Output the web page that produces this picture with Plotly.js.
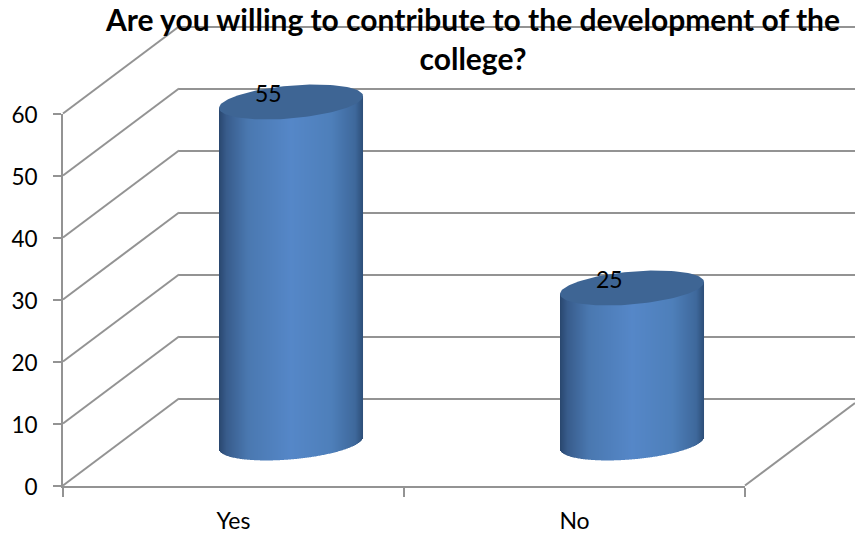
<!DOCTYPE html>
<html><head><meta charset="utf-8">
<script src="https://cdn.plot.ly/plotly-3.0.1.min.js"></script>
<style>html,body{margin:0;padding:0;background:#fff}#chart{width:855px;height:536px}</style>
</head><body><div id="chart"></div>
<script>
const categories = ['Yes', 'No'];
const responses = [55, 25];
const yTicks = [0, 10, 20, 30, 40, 50, 60];
const titleText = 'Are you willing to contribute to the development of the<br>college?';

const W = 855, H = 536;
const GREY = '#939393', FONT = 'Lato, Carlito, sans-serif', LW = 2;
const pxPerUnitY = 6.2, pxPerUnitX = 341;
const front = {left: 63, right: 745, bottom: 485.5};
const depth = {x: 116, y: 87};
const mid = {x: 291, y: 443};          // centre of first cylinder base
const cyl = {a: 72, b: 16.4, shear: 6 / 72};
const stops = [[0, [42,72,112]], [.05, [56,92,140]], [.2, [74,120,176]], [.5, [85,135,200]],
               [.78, [78,127,186]], [.95, [62,104,155]], [1, [46,80,122]]];
function gradient(t) {
  for (let i = 1; i < stops.length; i++) if (t <= stops[i][0]) {
    const [t0, c0] = stops[i-1], [t1, c1] = stops[i], k = (t - t0) / (t1 - t0);
    return 'rgb(' + c0.map((c, j) => Math.round(c + (c1[j] - c) * k)).join(',') + ')';
  }
  return 'rgb(46,80,122)';
}
const dx = p => p / W, dy = p => (H - p) / H;
const yPx = v => front.bottom - v * pxPerUnitY;

const idx = categories.map((_, i) => i);
const traces = [];
traces.push({type: 'scatter', x: categories, y: responses, mode: 'markers', marker: {opacity: 0}, xaxis: 'x', yaxis: 'y', hoverinfo: 'skip', showlegend: false});
traces.push({type: 'scatter', x: [0, 1], y: [0, 60], mode: 'markers', marker: {opacity: 0}, xaxis: 'x2', yaxis: 'y2', hoverinfo: 'skip', showlegend: false});

// cylinder body: 1px vertical strips, each a bar of the same values
const strips = 2 * cyl.a;
for (let s = 0; s < strips; s++) {
  const px = -cyl.a + s + 0.5, u = px / cyl.a;
  const tilt = cyl.shear * px / pxPerUnitY;
  const round = cyl.b * Math.sqrt(Math.max(0, 1 - u * u)) / pxPerUnitY;
  const drop = round - tilt;
  traces.push({
    type: 'bar', x: idx, y: responses.map(v => v + tilt + drop), base: idx.map(() => -drop),
    width: 1.02 / pxPerUnitX, offset: (px - 0.5) / pxPerUnitX,
    marker: {color: gradient(s / (strips - 1)), line: {width: 0}},
    xaxis: 'x3', yaxis: 'y3', hoverinfo: 'skip', showlegend: false
  });
}
// cylinder tops
responses.forEach((v, i) => {
  const xs = [], ys = [];
  for (let d = 0; d <= 360; d += 3) {
    const th = d * Math.PI / 180, px = cyl.a * Math.cos(th);
    xs.push(i + px / pxPerUnitX);
    ys.push(v - (-cyl.shear * px + cyl.b * Math.sin(th)) / pxPerUnitY);
  }
  traces.push({type: 'scatter', x: xs, y: ys, mode: 'lines', fill: 'toself', fillcolor: '#3e6594',
    line: {width: 0, color: '#3e6594'}, xaxis: 'x3', yaxis: 'y3', hoverinfo: 'skip', showlegend: false});
});

// side wall and floor edge
const shapes = yTicks.map(v => ({
  type: 'line', xref: 'paper', yref: 'paper', layer: 'below',
  x0: dx(front.left), y0: dy(yPx(v)), x1: dx(front.left + depth.x), y1: dy(yPx(v) - depth.y),
  line: {color: GREY, width: LW}
}));
shapes.push({type: 'line', xref: 'paper', yref: 'paper', layer: 'below',
  x0: dx(front.right), y0: dy(front.bottom), x1: dx(W), y1: dy(front.bottom - (W - front.right) * depth.y / depth.x),
  line: {color: GREY, width: LW}});

const layout = {
  width: W, height: H, margin: {l: 0, r: 0, t: 0, b: 0}, showlegend: false, hovermode: false,
  paper_bgcolor: '#fff', plot_bgcolor: 'rgba(0,0,0,0)', barmode: 'overlay',
  font: {family: FONT, color: '#000'},
  title: {text: titleText, x: 473 / W, xanchor: 'center', y: 1 - 31 / H, yanchor: 'top', font: {family: FONT, size: 30, color: '#000', weight: 700}},
  xaxis: {type: 'category', categoryorder: 'array', categoryarray: categories, range: [-0.5, 1.5],
    domain: [dx(front.left), dx(front.right)], anchor: 'y', tickson: 'boundaries', ticks: 'outside', ticklen: 9, tickwidth: LW, tickcolor: GREY,
    showline: true, linecolor: GREY, linewidth: LW, showgrid: false, zeroline: false, ticklabelstandoff: 14, tickfont: {size: 23, family: FONT, color: '#000'}},
  yaxis: {range: [0, 60], domain: [dy(front.bottom), dy(yPx(60))], anchor: 'x', tickmode: 'array', tickvals: yTicks, ticktext: yTicks.map(String),
    ticks: 'outside', ticklen: 8, tickwidth: LW, tickcolor: GREY, showline: true, linecolor: GREY, linewidth: LW, showgrid: false, zeroline: false,
    ticklabelstandoff: 11, ticklabelshift: 2, tickfont: {size: 22.5, family: FONT, color: '#000'}},
  xaxis2: {range: [0, 1], domain: [dx(front.left + depth.x), 1], anchor: 'y2', visible: false},
  yaxis2: {range: [-5, 64], domain: [dy(front.bottom - depth.y + 5 * pxPerUnitY), dy(yPx(64) - depth.y)], anchor: 'x2', tickmode: 'array', tickvals: yTicks,
    showticklabels: false, ticks: '', showgrid: true, gridcolor: GREY, gridwidth: LW, zeroline: false, showline: false},
  xaxis3: {range: [-0.5, 1.5], domain: [dx(mid.x - 170.5), dx(mid.x + 511.5)], anchor: 'y3', visible: false},
  yaxis3: {range: [-8, 66], domain: [dy(mid.y + 8 * pxPerUnitY), dy(mid.y - 66 * pxPerUnitY)], anchor: 'x3', visible: false},
  shapes,
  annotations: responses.map((v, i) => ({x: i, y: v, xref: 'x3', yref: 'y3', text: String(v), showarrow: false,
    xanchor: 'center', yanchor: 'middle', xshift: -23, yshift: 9, font: {family: FONT, size: 23, color: '#000'}}))
};
Plotly.newPlot('chart', traces, layout, {displayModeBar: false, responsive: false, staticPlot: true});
</script></body></html>
